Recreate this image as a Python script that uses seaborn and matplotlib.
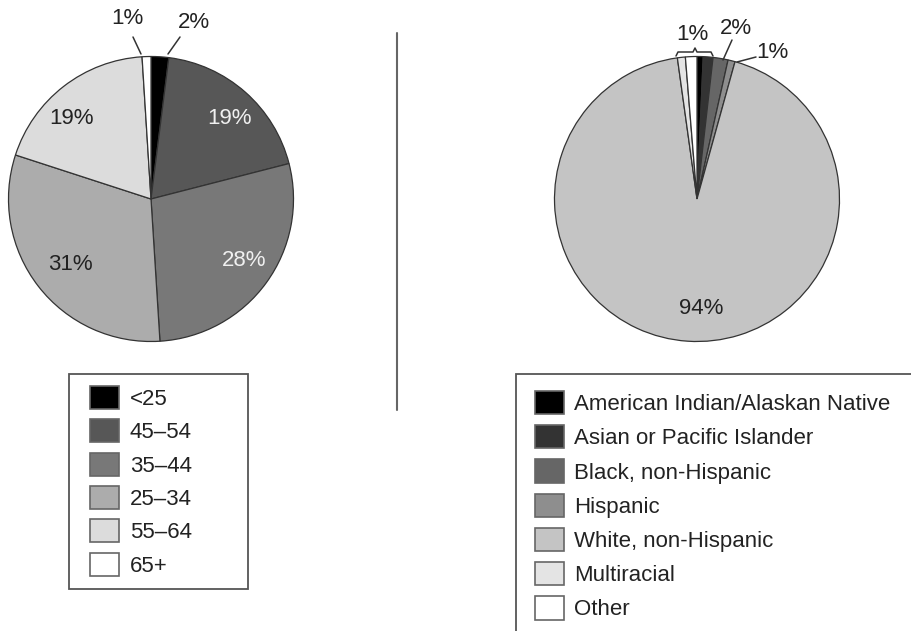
import numpy as np
import matplotlib.pyplot as plt
import matplotlib.patches as mpatches
from matplotlib.legend_handler import HandlerPatch
import seaborn as sns

sns.set_theme(style="white")
plt.rcParams["font.family"] = ["Liberation Sans", "DejaVu Sans"]

# 1 - data (clockwise from 12 o'clock)
age_groups = ["<25", "45–54", "35–44", "25–34", "55–64", "65+"]
age_share = [2, 19, 28, 31, 19, 1]
age_colors = ["#000000", "#575757", "#787878", "#acacac", "#dcdcdc", "#ffffff"]

race_groups = ["American Indian/Alaskan Native", "Asian or Pacific Islander",
               "Black, non-Hispanic", "Hispanic", "White, non-Hispanic",
               "Multiracial", "Other"]
race_share = [0.7, 1.1, 1.7, 0.8, 93.5, 0.9, 1.3]
race_colors = ["#000000", "#333333", "#666666", "#8e8e8e", "#c4c4c4", "#e4e4e4", "#ffffff"]

# label texts
age_inner = ["19%", "28%", "31%", "19%"]
age_outer = ["1%", "2%"]
race_inner = ["94%"]
race_outer = ["1%", "2%", "1%"]

W, H = 912, 631
fig = plt.figure(figsize=(W / 100, H / 100), dpi=100)


def pie_axes(cx, cy, r, pad=1.02):
    rr = r * pad
    ax = fig.add_axes([(cx - rr) / W, 1 - (cy + rr) / H, 2 * rr / W, 2 * rr / H])
    return ax, pad


# 2 - pies
ax1, p = pie_axes(151, 199, 142.5)
ax1.pie(age_share, colors=age_colors, startangle=90, counterclock=False,
        wedgeprops=dict(edgecolor="#333333", linewidth=0.9))
ax1.set_xlim(-p, p)
ax1.set_ylim(-p, p)

ax2, p = pie_axes(697, 199, 142.5)
ax2.pie(race_share, colors=race_colors, startangle=90, counterclock=False,
        wedgeprops=dict(edgecolor="#333333", linewidth=0.9))
ax2.set_xlim(-p, p)
ax2.set_ylim(-p, p)

# 3 - overlay in pixel coords for labels, leader lines and divider
ov = fig.add_axes([0, 0, 1, 1], facecolor="none")
ov.set_xlim(0, W)
ov.set_ylim(H, 0)
ov.axis("off")

fs = 16
inner_pos = [(230, 118), (244, 260), (70, 265), (72, 118)]
inner_col = ["#f0f0f0", "#f0f0f0", "#222222", "#222222"]
for t, (x, y), c in zip(age_inner, inner_pos, inner_col):
    ov.text(x, y, t, ha="center", va="center", fontsize=fs, color=c)
ov.text(701, 308, race_inner[0], ha="center", va="center", fontsize=fs, color="#222222")

for t, (x, y) in zip(age_outer, [(127, 18), (194, 22)]):
    ov.text(x, y, t, ha="center", va="center", fontsize=fs, color="#222222")
for t, (x, y) in zip(race_outer, [(692, 35), (736, 28), (772, 52)]):
    ov.text(x, y, t, ha="center", va="center", fontsize=fs, color="#222222")

lk = dict(color="#333333", lw=1.1)
ov.plot([133, 141], [37, 54], **lk)
ov.plot([180, 168], [37, 54], **lk)
ov.plot([732, 723], [40, 60], **lk)
ov.plot([756, 737], [57, 62], **lk)
ov.plot([676, 678, 693, 695, 697, 711, 713], [56, 52, 52, 48, 52, 52, 56], **lk)

ov.plot([397, 397], [33, 410], color="#666666", lw=1.5)

# 4 - legends
def add_legend(labels, colors, x0, y0, width, pad_px, xpad_px, textpad_px, spacing):
    em = fs * 100 / 72
    handles = [mpatches.Patch(facecolor=c, edgecolor="#666666", lw=1.2) for c in colors]
    leg = fig.legend(handles, labels, loc="upper left",
                     bbox_to_anchor=(x0 / W, 1 - y0 / H, width / W, 0),
                     mode="expand", borderaxespad=0, fontsize=fs,
                     handlelength=(29 + xpad_px) / em, handleheight=1.22,
                     handletextpad=textpad_px / em, labelspacing=spacing,
                     borderpad=pad_px / em, fancybox=False, framealpha=1,
                     edgecolor="#555555", labelcolor="#222222",
                     handler_map={mpatches.Patch: HandlerPatch(xpad=xpad_px / em)})
    leg.get_frame().set_linewidth(1.3)
    return leg


add_legend(age_groups, age_colors, 69, 374, 179, 12, 9, 11, 0.42)
add_legend(race_groups, race_colors, 516, 374, 420, 17, 2, 10, 0.46)

fig.savefig("out.png", dpi=100)
